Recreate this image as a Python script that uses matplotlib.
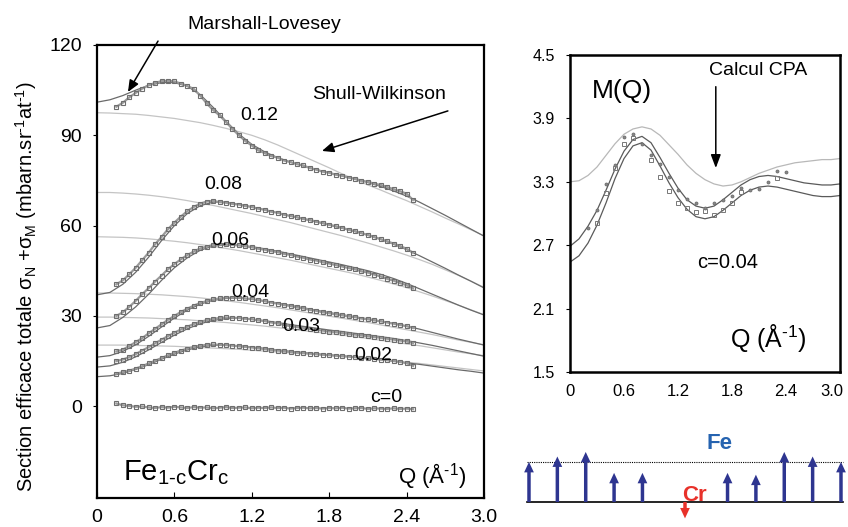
import numpy as np
import matplotlib
matplotlib.use("Agg")
import matplotlib.pyplot as plt
import matplotlib.transforms as mtransforms

plt.rcParams["font.family"] = ["Liberation Sans", "DejaVu Sans"]
plt.rcParams["mathtext.fontset"] = "custom"
plt.rcParams["mathtext.rm"] = "Liberation Sans"
plt.rcParams["mathtext.it"] = "Liberation Sans:italic"
plt.rcParams["mathtext.default"] = "regular"

# ---- left panel: measured cross sections (Q grid of the points) ----
q_data = np.round(np.arange(0.15, 2.451, 0.05), 2)
# Q grid of the fitted curves
q_fit = np.round(np.arange(0.0, 3.001, 0.1), 1)

data_012 = [99.5, 100.8, 102.6, 104.1, 105.5, 106.6, 107.4, 108.0, 108.1, 107.9,
            107.2, 106.4, 105.4, 103.2, 100.6, 98.4, 96.6, 94.4, 92.1, 90.0,
            88.1, 86.6, 85.0, 84.1, 83.1, 82.6, 81.6, 81.1, 80.4, 80.0,
            79.1, 78.6, 77.9, 77.6, 76.9, 76.6, 75.9, 75.6, 74.9, 74.6,
            73.9, 73.5, 72.8, 72.1, 71.4, 70.6, 68.5]
data_008 = [40.5, 41.8, 43.8, 46.0, 48.5, 51.0, 53.8, 56.2, 58.8, 61.0,
            63.0, 64.8, 66.2, 67.3, 68.0, 68.2, 67.8, 67.6, 67.2, 67.0,
            66.5, 66.2, 65.6, 65.3, 64.6, 64.3, 63.6, 63.2, 62.8, 62.2,
            61.9, 61.3, 60.9, 60.3, 59.8, 59.3, 58.6, 58.2, 57.5, 56.9,
            56.2, 55.5, 54.8, 54.0, 53.2, 52.3, 51.0]
data_006 = [30.0, 31.2, 33.0, 35.0, 37.2, 39.2, 41.4, 43.4, 45.5, 47.2,
            48.8, 50.2, 51.4, 52.4, 53.0, 53.6, 53.7, 53.8, 53.6, 53.4,
            53.1, 52.8, 52.3, 52.0, 51.5, 51.2, 50.6, 50.3, 49.7, 49.3,
            48.7, 48.4, 47.8, 47.4, 46.9, 46.4, 45.9, 45.5, 44.8, 44.4,
            43.7, 43.1, 42.3, 41.7, 40.9, 40.2, 39.2]
data_004 = [18.2, 18.8, 20.0, 21.3, 22.6, 24.2, 25.7, 27.2, 28.7, 30.0,
            31.3, 32.4, 33.4, 34.3, 34.9, 35.5, 35.8, 36.1, 36.0, 36.1,
            35.8, 35.6, 35.2, 34.9, 34.4, 34.1, 33.6, 33.3, 32.8, 32.5,
            32.0, 31.7, 31.2, 30.9, 30.5, 30.2, 29.8, 29.6, 29.1, 28.9,
            28.5, 28.2, 27.8, 27.4, 27.0, 26.6, 26.0]
data_003 = [15.0, 15.5, 16.3, 17.3, 18.5, 19.6, 20.9, 22.1, 23.3, 24.4,
            25.5, 26.4, 27.3, 28.0, 28.6, 29.0, 29.3, 29.5, 29.4, 29.3,
            29.1, 28.9, 28.5, 28.3, 27.8, 27.5, 27.0, 26.6, 26.3, 26.0,
            25.7, 25.4, 25.1, 24.8, 24.6, 24.3, 24.0, 23.8, 23.5, 23.2,
            23.0, 22.7, 22.4, 22.1, 21.8, 21.5, 21.0]
data_002 = [10.8, 11.3, 11.8, 12.5, 13.3, 14.2, 15.1, 16.0, 16.9, 17.7,
            18.5, 19.1, 19.7, 20.1, 20.4, 20.5, 20.4, 20.3, 20.1, 19.9,
            19.7, 19.5, 19.2, 19.0, 18.7, 18.5, 18.3, 18.0, 17.8, 17.7,
            17.5, 17.3, 17.1, 17.0, 16.8, 16.6, 16.5, 16.3, 16.1, 15.9,
            15.7, 15.5, 15.3, 15.0, 14.7, 14.3, 13.4]
data_000 = [0.9, 0.3, 0.1, -0.2, -0.1, -0.4, -0.6, -0.3, -0.5, -0.2,
            -0.4, -0.6, -0.3, -0.5, -0.4, -0.7, -0.5, -0.3, -0.6, -0.5,
            -0.4, -0.7, -0.5, -0.6, -0.4, -0.6, -0.5, -0.8, -0.6, -0.5,
            -0.7, -0.6, -0.8, -0.6, -0.7, -0.5, -0.8, -0.7, -0.6, -0.9,
            -0.7, -0.8, -0.9, -0.7, -0.9, -0.8, -1.0]

# Marshall-Lovesey fits
ml_012 = [101.0, 101.8, 103.2, 105.0, 106.6, 107.5, 107.5, 106.3, 103.5, 99.3,
          94.7, 90.4, 87.0, 84.5, 82.6, 81.1, 79.8, 78.6, 77.5, 76.5,
          75.5, 74.3, 73.0, 71.5, 69.8, 67.8, 65.6, 63.4, 61.1, 58.8, 56.5]
ml_008 = [37.0, 37.8, 40.5, 44.5, 49.5, 55.0, 60.0, 64.0, 66.6, 67.8,
          67.8, 67.1, 66.2, 65.2, 64.2, 63.2, 62.2, 61.2, 60.2, 59.1,
          58.0, 56.8, 55.4, 53.8, 52.0, 50.0, 47.9, 45.8, 43.6, 41.5, 39.3]
ml_006 = [26.0, 26.8, 29.5, 33.0, 37.2, 41.8, 46.0, 49.3, 51.8, 53.2,
          53.6, 53.5, 53.0, 52.3, 51.5, 50.6, 49.7, 48.8, 47.9, 47.0,
          46.0, 45.0, 43.8, 42.4, 40.8, 39.0, 37.2, 35.4, 33.6, 31.9, 30.3]
ml_004 = [16.3, 16.8, 18.2, 20.4, 23.2, 26.3, 29.3, 31.9, 33.9, 35.2,
          35.8, 35.9, 35.6, 35.0, 34.3, 33.5, 32.7, 31.9, 31.1, 30.4,
          29.7, 29.0, 28.3, 27.5, 26.6, 25.6, 24.5, 23.4, 22.3, 21.3, 20.3]
ml_003 = [13.0, 13.4, 14.6, 16.4, 18.7, 21.2, 23.6, 25.7, 27.4, 28.5,
          29.1, 29.2, 28.9, 28.4, 27.8, 27.1, 26.5, 25.9, 25.3, 24.8,
          24.2, 23.7, 23.1, 22.5, 21.8, 21.0, 20.2, 19.3, 18.4, 17.5, 16.6]
ml_002 = [9.8, 10.1, 10.9, 12.2, 13.8, 15.6, 17.3, 18.7, 19.7, 20.2,
          20.3, 20.1, 19.7, 19.2, 18.7, 18.2, 17.8, 17.4, 17.0, 16.7,
          16.3, 15.9, 15.5, 15.0, 14.4, 13.9, 13.3, 12.7, 12.1, 11.6, 11.0]

# Shull-Wilkinson fits
sw_012 = [97.5, 97.4, 97.2, 97.0, 96.6, 96.1, 95.6, 94.9, 94.2, 93.3,
          92.3, 91.2, 90.0, 88.5, 86.8, 84.9, 83.0, 81.1, 79.2, 77.2,
          75.3, 73.5, 71.8, 70.0, 68.3, 66.4, 64.5, 62.5, 60.6, 58.6, 56.6]
sw_008 = [71.0, 71.0, 70.8, 70.5, 70.1, 69.6, 69.0, 68.3, 67.5, 66.7,
          65.8, 64.9, 64.0, 63.0, 62.0, 61.0, 59.9, 58.8, 57.7, 56.6,
          55.4, 54.2, 52.9, 51.6, 50.2, 48.7, 47.1, 45.3, 43.5, 41.5, 39.5]
sw_006 = [56.3, 56.2, 56.1, 55.9, 55.6, 55.2, 54.8, 54.3, 53.7, 53.1,
          52.4, 51.7, 50.9, 50.1, 49.3, 48.5, 47.6, 46.7, 45.8, 44.9,
          44.0, 42.9, 41.8, 40.6, 39.4, 38.0, 36.6, 35.1, 33.6, 32.0, 30.4]
sw_004 = [37.6, 37.6, 37.5, 37.4, 37.2, 37.0, 36.7, 36.4, 36.0, 35.5,
          35.0, 34.5, 33.9, 33.3, 32.7, 32.0, 31.3, 30.6, 29.9, 29.2,
          28.5, 27.8, 27.0, 26.2, 25.4, 24.6, 23.8, 22.9, 22.0, 21.2, 20.4]
sw_003 = [29.6, 29.6, 29.5, 29.4, 29.3, 29.1, 28.9, 28.7, 28.4, 28.1,
          27.8, 27.4, 27.0, 26.6, 26.1, 25.6, 25.1, 24.6, 24.1, 23.6,
          23.1, 22.5, 21.9, 21.3, 20.7, 20.1, 19.4, 18.7, 18.0, 17.4, 16.8]
sw_002 = [20.3, 20.3, 20.3, 20.2, 20.1, 20.0, 19.9, 19.7, 19.5, 19.3,
          19.1, 18.9, 18.6, 18.3, 18.0, 17.7, 17.4, 17.1, 16.8, 16.5,
          16.2, 15.8, 15.4, 15.0, 14.6, 14.2, 13.7, 13.2, 12.7, 12.2, 11.7]

conc_labels = ["0.12", "0.08", "0.06", "0.04", "0.03", "0.02", "c=0"]
label_pos = [(1.26, 96.7), (0.98, 73.5), (1.03, 55.2), (1.19, 37.9),
             (1.58, 26.6), (2.14, 16.9), (2.24, 3.0)]

# ---- right panel: M(Q) for c=0.04 ----
q_m_pts = [0.2, 0.3, 0.4, 0.5, 0.6, 0.7, 0.8, 0.9, 1.0, 1.1, 1.2, 1.3,
           1.4, 1.5, 1.6, 1.7, 1.8, 1.9, 2.0, 2.1, 2.2, 2.3, 2.4]
m_pts_a = [2.86, 3.03, 3.28, 3.46, 3.72, 3.75, 3.66, 3.55, 3.47, 3.35, 3.22, 3.14,
           3.10, 3.05, 3.10, 3.13, 3.17, 3.24, 3.22, 3.23, 3.30, 3.40, 3.39]
q_m_pts_b = [0.3, 0.4, 0.5, 0.6, 0.7, 0.9, 1.0, 1.1, 1.2, 1.3, 1.4, 1.5,
             1.6, 1.7, 1.8, 1.9, 2.3]
m_pts_b = [2.91, 3.19, 3.43, 3.66, 3.71, 3.51, 3.35, 3.21, 3.10, 3.05, 3.01, 3.02,
           2.99, 3.03, 3.10, 3.20, 3.34]
m_fit_upper = [2.69, 2.76, 2.88, 3.03, 3.22, 3.42, 3.59, 3.70, 3.73, 3.67,
               3.53, 3.38, 3.24, 3.13, 3.07, 3.05, 3.07, 3.13, 3.20, 3.27,
               3.32, 3.35, 3.36, 3.35, 3.33, 3.31, 3.29, 3.28, 3.27, 3.27, 3.28]
m_fit_lower = [2.54, 2.60, 2.72, 2.89, 3.10, 3.33, 3.52, 3.64, 3.67, 3.60,
               3.45, 3.29, 3.15, 3.04, 2.97, 2.95, 2.97, 3.03, 3.10, 3.17,
               3.22, 3.25, 3.26, 3.25, 3.23, 3.21, 3.19, 3.17, 3.16, 3.16, 3.17]
m_cpa = [3.30, 3.31, 3.36, 3.44, 3.55, 3.66, 3.75, 3.80, 3.82, 3.80,
         3.74, 3.65, 3.56, 3.46, 3.38, 3.32, 3.28, 3.26, 3.27, 3.30,
         3.34, 3.38, 3.41, 3.44, 3.46, 3.48, 3.49, 3.50, 3.51, 3.51, 3.52]

# ---- moments sketch ----
fe_sites = [0, 1, 2, 3, 4, 7, 8, 9, 10, 11]
fe_moments = [2.2, 2.5, 2.75, 1.6, 1.6, 1.6, 1.5, 2.75, 2.5, 2.2]
cr_site = 5.5
cr_moment = -0.9
fe_bulk = 2.2

q_ticks = [0, 0.6, 1.2, 1.8, 2.4, 3.0]
q_ticklabels = ["0", "0.6", "1.2", "1.8", "2.4", "3.0"]

W, H = 848, 527
fig = plt.figure(figsize=(W / 100, H / 100), dpi=100)

# left panel
ax = fig.add_axes([97 / W, 1 - 498 / H, 387 / W, 453 / H])
data_sets = [data_012, data_008, data_006, data_004, data_003, data_002]
ml_sets = [ml_012, ml_008, ml_006, ml_004, ml_003, ml_002]
sw_sets = [sw_012, sw_008, sw_006, sw_004, sw_003, sw_002]
for sw in sw_sets:
    ax.plot(q_fit, sw, color="#c4c4c4", lw=0.9, zorder=1)
for ml in ml_sets:
    ax.plot(q_fit, ml, color="#6a6a6a", lw=0.9, zorder=2)
for d in data_sets + [data_000]:
    ax.plot(q_data, d, ls="-", lw=1.6, color="#9a9a9a", marker="s", ms=3.4,
            mfc="none", mec="#6e6e6e", mew=0.8, zorder=3)
for lab, (x, y) in zip(conc_labels, label_pos):
    ax.text(x, y, lab, fontsize=14, ha="center", va="center", zorder=5)

ax.set_xlim(0, 3.0)
ax.set_ylim(-30.5, 120)
ax.set_xticks(q_ticks)
ax.set_xticklabels(q_ticklabels)
ax.set_yticks([0, 30, 60, 90, 120])
ax.tick_params(axis="x", labelsize=14, direction="in", length=4, pad=8)
ax.tick_params(axis="y", labelsize=14, direction="out", length=3, pad=8)
for s in ax.spines.values():
    s.set_linewidth(1.6)

ax.text(0.2, -24.6, r"Fe$_{\text{1-c}}$Cr$_{c}$", fontsize=21, ha="left", va="baseline")
ax.text(2.86, -25.6, r"Q (Å$^{\text{-1}}$)", fontsize=16, ha="right", va="baseline")
ax.text(1.295, 126.7, "Marshall-Lovesey", fontsize=14, ha="center", va="center",
        clip_on=False)
ax.annotate("", xy=(0.24, 104.4), xytext=(0.473, 121.3), annotation_clip=False,
            arrowprops=dict(arrowstyle="-|>,head_length=0.7,head_width=0.3",
                            color="black", lw=1.1, shrinkA=0, shrinkB=0))
ax.text(2.186, 103.7, "Shull-Wilkinson", fontsize=14, ha="center", va="center")
ax.annotate("", xy=(1.744, 84.8), xytext=(2.72, 98.1),
            arrowprops=dict(arrowstyle="-|>,head_length=0.7,head_width=0.3",
                            color="black", lw=1.1, shrinkA=0, shrinkB=0))
fig.text(26 / W, 1 - 287 / H,
         r"Section efficace totale σ$_N$ +σ$_M$ (mbarn.sr$^{\text{-1}}$at$^{\text{-1}}$)",
         rotation=90, fontsize=14.5, ha="center", va="center")

# right panel
ax2 = fig.add_axes([570 / W, 1 - 372 / H, 270 / W, 317 / H])
ax2.plot(q_fit, m_cpa, color="#b8b8b8", lw=0.9)
ax2.plot(q_fit, m_fit_upper, color="#5a5a5a", lw=0.9)
ax2.plot(q_fit, m_fit_lower, color="#5a5a5a", lw=0.9)
ax2.plot(q_m_pts, m_pts_a, ls="none", marker="o", ms=2.2, mfc="#888888",
         mec="#666666", mew=0.5)
ax2.plot(q_m_pts_b, m_pts_b, ls="none", marker="s", ms=3.0, mfc="none",
         mec="#777777", mew=0.7)
ax2.set_xlim(0, 3.0)
ax2.set_ylim(1.5, 4.5)
ax2.set_xticks(q_ticks)
ax2.set_xticklabels(q_ticklabels)
ax2.set_yticks([1.5, 2.1, 2.7, 3.3, 3.9, 4.5])
ax2.set_yticklabels(["1.5", "2.1", "2.7", "3.3", "3.9", "4.5"])
ax2.tick_params(axis="x", labelsize=12, length=0, pad=9)
ax2.tick_params(axis="y", labelsize=11.5, direction="out", length=3, pad=8)
# pull the last label ("3.0") a little inward so it stays on the canvas
last = ax2.get_xticklabels()[-1]
last.set_transform(last.get_transform() +
                   mtransforms.ScaledTranslation(-6 / 72, 0, fig.dpi_scale_trans))
for s in ax2.spines.values():
    s.set_linewidth(1.8)
ax2.text(0.244, 4.09, "M(Q)", fontsize=19, ha="left", va="baseline")
ax2.text(1.54, 4.31, "Calcul CPA", fontsize=14, ha="left", va="baseline")
ax2.annotate("", xy=(1.62, 3.43), xytext=(1.62, 4.20),
             arrowprops=dict(arrowstyle="-|>,head_length=0.8,head_width=0.3",
                             color="black", lw=1.1, shrinkA=0, shrinkB=0))
ax2.text(1.41, 2.48, "c=0.04", fontsize=14.5, ha="left", va="baseline")
ax2.text(1.78, 1.74, r"Q (Å$^{\text{-1}}$)", fontsize=18, ha="left", va="baseline")

# moments sketch
ax3 = fig.add_axes([520 / W, 0, 328 / W, 110 / H])
ax3.set_xlim(-0.317, 11.247)
ax3.set_ylim(-1.374, 4.67)
ax3.axis("off")
ax3.plot([-0.07, 11.07], [0, 0], color="black", lw=1.2)
ax3.plot([-0.07, 11.07], [fe_bulk, fe_bulk], color="black", lw=0.8, ls=(0, (1, 1)))
for x, m in zip(fe_sites, fe_moments):
    ax3.annotate("", xy=(x, m), xytext=(x, 0),
                 arrowprops=dict(arrowstyle="simple,head_length=0.75,head_width=0.7,tail_width=0.25",
                                 color="#2e3590", shrinkA=0, shrinkB=0, lw=0))
ax3.annotate("", xy=(cr_site, cr_moment), xytext=(cr_site, 0),
             arrowprops=dict(arrowstyle="simple,head_length=0.75,head_width=0.7,tail_width=0.25",
                             color="#e8312a", shrinkA=0, shrinkB=0, lw=0))
ax3.text(6.73, 3.19, "Fe", fontsize=16, fontweight="bold", color="#2563b0",
         ha="center", va="center")
ax3.text(5.82, 0.38, "Cr", fontsize=16, fontweight="bold", color="#e8312a",
         ha="center", va="center")

fig.savefig("out.png", dpi=100)
